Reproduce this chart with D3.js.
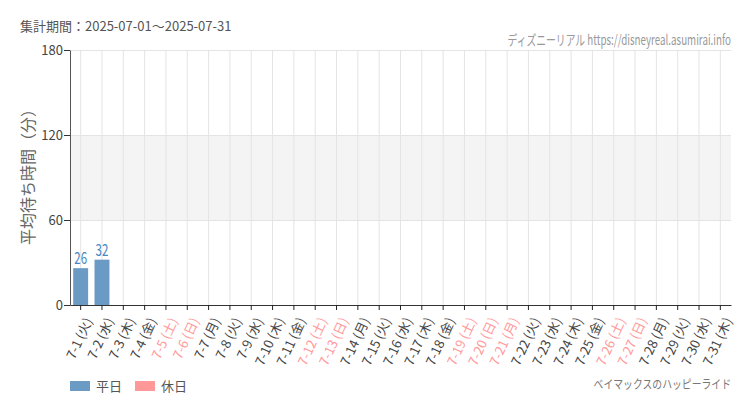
<!DOCTYPE html>
<html>
<head>
<meta charset="utf-8">
<script src="https://cdn.jsdelivr.net/npm/d3@7"></script>
<style>
body { margin: 0; background: #fff; }
text { font-family: "Noto Sans CJK JP", "Noto Sans", sans-serif; }
</style>
</head>
<body>
<script>
const width = 750
const height = 410
const margin = {top: 50, right: 19, bottom: 105, left: 70}

const days = ['7-1', '7-2', '7-3', '7-4', '7-5', '7-6', '7-7', '7-8', '7-9', '7-10',
    '7-11', '7-12', '7-13', '7-14', '7-15', '7-16', '7-17', '7-18', '7-19', '7-20',
    '7-21', '7-22', '7-23', '7-24', '7-25', '7-26', '7-27', '7-28', '7-29', '7-30', '7-31']
const weekdays = ['火', '水', '木', '金', '土', '日', '月', '火', '水', '木',
    '金', '土', '日', '月', '火', '水', '木', '金', '土', '日',
    '月', '火', '水', '木', '金', '土', '日', '月', '火', '水', '木']
const holidays = ['7-5', '7-6', '7-12', '7-13', '7-19', '7-20', '7-21', '7-26', '7-27']
const waits = [26, 32, null, null, null, null, null, null, null, null,
    null, null, null, null, null, null, null, null, null, null,
    null, null, null, null, null, null, null, null, null, null, null]
const yTicks = [0, 60, 120, 180]
const bandRange = [60, 120]
const legendItems = ['平日', '休日']

const weekdayColor = '#6b9ac4'
const holidayColor = '#ff9999'
const labelColor = '#4a86c0'

const innerW = width - margin.left - margin.right
const innerH = height - margin.top - margin.bottom

// squeeze text horizontally around its anchor point
function narrow(sel, ax, ay, k) {
    sel.attr('x', 0).attr('y', 0)
        .attr('transform', `translate(${ax},${ay}) scale(${k},1)`)
}

const svg = d3.select('body').append('svg')
    .attr('width', width)
    .attr('height', height)

svg.append('text')
    .attr('x', 20).attr('y', 31)
    .attr('font-size', 13).attr('fill', '#555')
    .text('集計期間：2025-07-01～2025-07-31')

svg.append('text')
    .attr('text-anchor', 'end')
    .attr('font-size', 14).attr('fill', '#999')
    .call(narrow, margin.left + innerW, 45, 0.7)
    .text('ディズニーリアル https://disneyreal.asumirai.info')

const g = svg.append('g').attr('transform', `translate(${margin.left},${margin.top})`)

const x = d3.scaleBand().domain(days).range([0, innerW]).paddingInner(0.3).paddingOuter(0.15)
const y = d3.scaleLinear().domain([0, 180]).range([innerH, 0])

g.append('rect')
    .attr('x', 0).attr('width', innerW)
    .attr('y', y(bandRange[1])).attr('height', y(bandRange[0]) - y(bandRange[1]))
    .attr('fill', '#f4f4f4')

g.selectAll('.vgrid').data(days).enter().append('line')
    .attr('x1', d => x(d) + x.bandwidth() / 2).attr('x2', d => x(d) + x.bandwidth() / 2)
    .attr('y1', 0).attr('y2', innerH)
    .attr('stroke', '#e4e4e4')

g.selectAll('.hgrid').data(yTicks.slice(1)).enter().append('line')
    .attr('x1', 0).attr('x2', innerW)
    .attr('y1', d => y(d) + 0.5).attr('y2', d => y(d) + 0.5)
    .attr('stroke', '#e4e4e4')

const present = days.map((d, i) => ({day: d, v: waits[i]})).filter(d => d.v != null)

g.selectAll('.bar').data(present).enter().append('rect')
    .attr('x', d => x(d.day)).attr('width', x.bandwidth())
    .attr('y', d => y(d.v)).attr('height', d => innerH - y(d.v))
    .attr('fill', d => holidays.includes(d.day) ? holidayColor : weekdayColor)

g.selectAll('.val').data(present).enter().append('text')
    .attr('transform', d => `translate(${x(d.day) + x.bandwidth() / 2},${y(d.v) - 4}) scale(0.72,1)`)
    .attr('text-anchor', 'middle')
    .attr('font-size', 16).attr('fill', labelColor)
    .attr('font-family', 'DejaVu Sans')
    .text(d => d.v)

const yAxis = g.append('g')
    .call(d3.axisLeft(y).tickValues(yTicks).tickSize(6).tickSizeOuter(0))
yAxis.select('.domain').attr('stroke', '#555')
yAxis.selectAll('.tick line').attr('stroke', '#333')
yAxis.selectAll('text').attr('font-size', 13).attr('fill', '#444')
    .attr('font-family', 'Liberation Sans').attr('dx', 2)

const xAxis = g.append('g').attr('transform', `translate(0,${innerH})`)
    .call(d3.axisBottom(x).tickSize(5).tickSizeOuter(0))
xAxis.select('.domain').attr('stroke', '#333')
xAxis.selectAll('.tick line').attr('stroke', '#222')
xAxis.selectAll('.tick text')
    .text((d, i) => `${d} (${weekdays[i]})`)
    .attr('font-size', 13)
    .attr('fill', d => holidays.includes(d) ? holidayColor : '#444')
    .attr('text-anchor', 'end')
    .attr('dx', 0).attr('dy', 0)
    .attr('transform', 'translate(5,12) rotate(-65)')

svg.append('text')
    .attr('transform', `translate(34,173) rotate(-90)`)
    .attr('text-anchor', 'middle')
    .attr('font-size', 16).attr('fill', '#666')
    .text('平均待ち時間（分）')

const legend = svg.append('g').attr('transform', 'translate(70,381)')
legendItems.forEach((name, i) => {
    const item = legend.append('g').attr('transform', `translate(${i * 65},0)`)
    item.append('rect').attr('width', 20).attr('height', 10)
        .attr('fill', i === 0 ? weekdayColor : holidayColor)
    item.append('text').attr('x', 26).attr('y', 10)
        .attr('font-size', 13).attr('fill', '#555')
        .text(name)
})

svg.append('text')
    .attr('text-anchor', 'end')
    .attr('font-size', 12).attr('fill', '#777')
    .call(narrow, margin.left + innerW, 389, 0.82)
    .text('ベイマックスのハッピーライド')
</script>
</body>
</html>
